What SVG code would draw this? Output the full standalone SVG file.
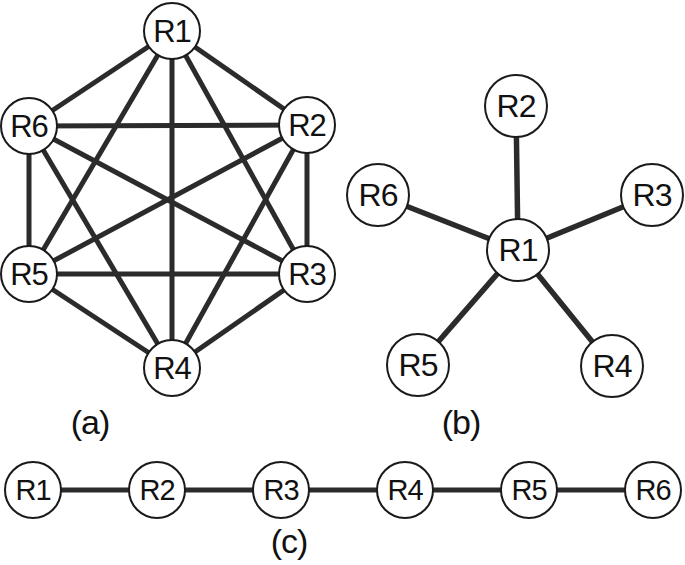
<svg xmlns="http://www.w3.org/2000/svg" width="685" height="565" viewBox="0 0 685 565">
<style>
.e{stroke:#2b2b2b;stroke-width:5;stroke-linecap:butt}
.n{fill:#fff;stroke:#1a1a1a;stroke-width:2}
.t{font-family:"Liberation Sans",Arial,sans-serif;fill:#111;text-anchor:middle;dominant-baseline:central;letter-spacing:-1px}
.a{font-size:31px}
.b{font-size:32px}
.c{font-size:29px}
.lab{font-family:"Liberation Sans",Arial,sans-serif;font-size:34px;fill:#111;text-anchor:middle;letter-spacing:-1px}
</style>
<rect width="685" height="565" fill="#fff"/>
<g id="connectors">
<g class="e">
<line x1="172" y1="31" x2="307" y2="125"/>
<line x1="172" y1="31" x2="307" y2="274"/>
<line x1="172" y1="31" x2="172" y2="368"/>
<line x1="172" y1="31" x2="29" y2="274"/>
<line x1="172" y1="31" x2="29" y2="126"/>
<line x1="307" y1="125" x2="307" y2="274"/>
<line x1="307" y1="125" x2="172" y2="368"/>
<line x1="307" y1="125" x2="29" y2="274"/>
<line x1="307" y1="125" x2="29" y2="126"/>
<line x1="307" y1="274" x2="172" y2="368"/>
<line x1="307" y1="274" x2="29" y2="274"/>
<line x1="307" y1="274" x2="29" y2="126"/>
<line x1="172" y1="368" x2="29" y2="274"/>
<line x1="172" y1="368" x2="29" y2="126"/>
<line x1="29" y1="274" x2="29" y2="126"/>
</g>
<g class="e" style="stroke-width:5.5">
<line x1="518" y1="250" x2="516" y2="106"/>
<line x1="518" y1="250" x2="652" y2="195"/>
<line x1="518" y1="250" x2="612" y2="366"/>
<line x1="518" y1="250" x2="418" y2="365"/>
<line x1="518" y1="250" x2="378" y2="195"/>
</g>
<g class="e">
<line x1="33" y1="490" x2="653" y2="490"/>
</g>
</g>
<g id="a-R1"><circle class="n" cx="172" cy="31" r="28"/><text class="t a" x="172" y="31">R1</text></g>
<g id="a-R2"><circle class="n" cx="307" cy="125" r="28"/><text class="t a" x="307" y="125">R2</text></g>
<g id="a-R3"><circle class="n" cx="307" cy="274" r="28"/><text class="t a" x="307" y="274">R3</text></g>
<g id="a-R4"><circle class="n" cx="172" cy="368" r="28"/><text class="t a" x="172" y="368">R4</text></g>
<g id="a-R5"><circle class="n" cx="29" cy="274" r="28"/><text class="t a" x="29" y="274">R5</text></g>
<g id="a-R6"><circle class="n" cx="29" cy="126" r="28"/><text class="t a" x="29" y="126">R6</text></g>

<g id="b-R1"><circle class="n" cx="518" cy="250" r="31"/><text class="t b" x="518" y="250">R1</text></g>
<g id="b-R2"><circle class="n" cx="516" cy="106" r="31"/><text class="t b" x="516" y="106">R2</text></g>
<g id="b-R3"><circle class="n" cx="652" cy="195" r="31"/><text class="t b" x="652" y="195">R3</text></g>
<g id="b-R4"><circle class="n" cx="612" cy="366" r="31"/><text class="t b" x="612" y="366">R4</text></g>
<g id="b-R5"><circle class="n" cx="418" cy="365" r="31"/><text class="t b" x="418" y="365">R5</text></g>
<g id="b-R6"><circle class="n" cx="378" cy="195" r="31"/><text class="t b" x="378" y="195">R6</text></g>

<g id="c-R1"><circle class="n" cx="33" cy="490" r="28"/><text class="t c" x="33" y="490">R1</text></g>
<g id="c-R2"><circle class="n" cx="157" cy="490" r="28"/><text class="t c" x="157" y="490">R2</text></g>
<g id="c-R3"><circle class="n" cx="281" cy="490" r="28"/><text class="t c" x="281" y="490">R3</text></g>
<g id="c-R4"><circle class="n" cx="405" cy="490" r="28"/><text class="t c" x="405" y="490">R4</text></g>
<g id="c-R5"><circle class="n" cx="529" cy="490" r="28"/><text class="t c" x="529" y="490">R5</text></g>
<g id="c-R6"><circle class="n" cx="653" cy="490" r="28"/><text class="t c" x="653" y="490">R6</text></g>

<text class="lab" x="90" y="434">(a)</text>
<text class="lab" x="461" y="434">(b)</text>
<text class="lab" x="289" y="553">(c)</text>
</svg>
